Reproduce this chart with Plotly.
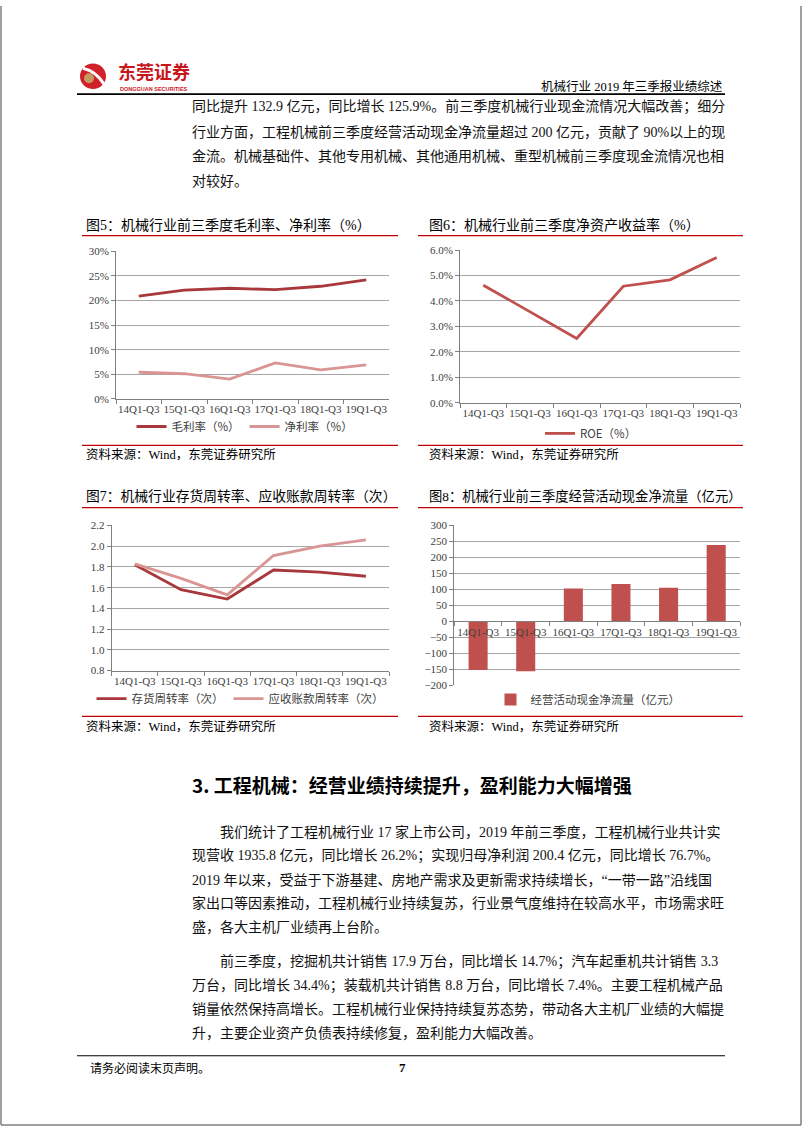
import plotly.graph_objects as go

W, H = 802, 1133
SERIF = "Liberation Serif, Noto Sans CJK SC"
SANS = "Noto Sans CJK SC"

# ---------------- data ----------------
categories = ["14Q1-Q3", "15Q1-Q3", "16Q1-Q3", "17Q1-Q3", "18Q1-Q3", "19Q1-Q3"]
gross_margin = [20.9, 22.1, 22.5, 22.2, 22.9, 24.2]        # 毛利率（%）
net_margin = [5.4, 5.1, 4.0, 7.3, 5.9, 6.9]                # 净利率（%）
roe = [4.62, 3.58, 2.53, 4.58, 4.83, 5.71]                 # ROE（%）
inventory_turnover = [1.82, 1.58, 1.49, 1.77, 1.75, 1.71]  # 存货周转率（次）
receivable_turnover = [1.83, 1.69, 1.53, 1.91, 2.00, 2.06] # 应收账款周转率（次）
op_cash_flow = [-152, -156, 103, 117, 105, 239]            # 经营活动现金净流量（亿元）

chart_titles = [
    "图5：机械行业前三季度毛利率、净利率（%）",
    "图6：机械行业前三季度净资产收益率（%）",
    "图7：机械行业存货周转率、应收账款周转率（次）",
    "图8：机械行业前三季度经营活动现金净流量（亿元）",
]
source_text = "资料来源：Wind，东莞证券研究所"

top_para = [
    "同比提升 132.9 亿元，同比增长 125.9%。前三季度机械行业现金流情况大幅改善；细分",
    "行业方面，工程机械前三季度经营活动现金净流量超过 200 亿元，贡献了 90%以上的现",
    "金流。机械基础件、其他专用机械、其他通用机械、重型机械前三季度现金流情况也相",
    "对较好。",
]
section_title = "3. 工程机械：经营业绩持续提升，盈利能力大幅增强"
para1 = [
    "我们统计了工程机械行业 17 家上市公司，2019 年前三季度，工程机械行业共计实",
    "现营收 1935.8 亿元，同比增长 26.2%；实现归母净利润 200.4 亿元，同比增长 76.7%。",
    "2019 年以来，受益于下游基建、房地产需求及更新需求持续增长，“一带一路”沿线国",
    "家出口等因素推动，工程机械行业持续复苏，行业景气度维持在较高水平，市场需求旺",
    "盛，各大主机厂业绩再上台阶。",
]
para2 = [
    "前三季度，挖掘机共计销售 17.9 万台，同比增长 14.7%；汽车起重机共计销售 3.3",
    "万台，同比增长 34.4%；装载机共计销售 8.8 万台，同比增长 7.4%。主要工程机械产品",
    "销量依然保持高增长。工程机械行业保持持续复苏态势，带动各大主机厂业绩的大幅提",
    "升，主要企业资产负债表持续修复，盈利能力大幅改善。",
]

# ---------------- helpers ----------------
def px(x):
    return x / W

def py(y):
    return 1 - y / H

def xd(a, b):
    return [a / W, b / W]

def yd(top, bottom):
    return [1 - bottom / H, 1 - top / H]

annotations = []
shapes = []

def text(t, x, y, size, color="#000000", family=SERIF, xanchor="left", bold=False):
    if bold:
        t = "<b>" + t + "</b>"
    annotations.append(dict(text=t, x=px(x), y=py(y), xref="paper", yref="paper",
                            xanchor=xanchor, yanchor="middle", showarrow=False,
                            font=dict(family=family, size=size, color=color)))

def hline(x0, x1, y, color, width):
    shapes.append(dict(type="line", xref="paper", yref="paper", x0=px(x0), x1=px(x1),
                       y0=py(y), y1=py(y), line=dict(color=color, width=width)))

def vline(x, y0, y1, color, width):
    shapes.append(dict(type="line", xref="paper", yref="paper", x0=px(x), x1=px(x),
                       y0=py(y0), y1=py(y1), line=dict(color=color, width=width)))

def circle(cx, cy, r, color):
    shapes.append(dict(type="circle", xref="paper", yref="paper", x0=px(cx - r), x1=px(cx + r),
                       y0=py(cy + r), y1=py(cy - r), fillcolor=color, line=dict(width=0)))

# ---------------- page decoration ----------------
BORDER = "#7F7F7F"
vline(1, 0, 1131, BORDER, 1.5)
vline(801, 0, 1131, BORDER, 1.5)
hline(1, 801, 1131, BORDER, 1.5)

# logo
circle(93, 71, 13, "#D0202A")
shapes.append(dict(type="path", xref="paper", yref="paper",
                   path="M %f,%f Q %f,%f %f,%f" % (px(83), py(63), px(96), py(66), px(104), py(79)),
                   line=dict(color="white", width=3)))
circle(89, 73, 5, "#C49A5E")
text("东莞证券", 116, 66, 18, "#C8161D", SANS, bold=True)
text("DONGGUAN SECURITIES", 118, 84, 5.5, "#C8161D", "Liberation Sans", bold=True)
text("机械行业 2019 年三季报业绩综述", 725, 81, 12.5, "#000000", SERIF, xanchor="right")
hline(77, 725, 89, "#000000", 1.8)

# top paragraph
for i, line in enumerate(top_para):
    text(line, 190, 102 + 25 * i, 14, "#111111")

# chart titles, rules, sources
RED = "#C00000"
for (tx, ty, lx0, lx1, rule_top, rule_bot, src_y, tsize), t in zip(
        [(84, 221, 82, 398, 232, 444, 453, 14),
         (427, 221, 418, 743, 232, 444, 453, 14),
         (84, 495, 82, 398, 507, 718, 728, 13.8),
         (427, 495, 418, 743, 507, 718, 728, 13.3)], chart_titles):
    text(t, tx, ty, tsize, "#000000", SERIF)
    hline(lx0, lx1, rule_top, RED, 1.2)
    hline(lx0, lx1, rule_bot, RED, 1.2)
    text(source_text, tx, src_y, 12.5, "#000000", SERIF)

# section text
text(section_title, 190, 787, 19, "#000000", SANS, bold=True)
for i, line in enumerate(para1):
    text(line, 218 if i == 0 else 190, 835 + 24 * i, 14, "#111111")
for i, line in enumerate(para2):
    text(line, 218 if i == 0 else 190, 966 + 24 * i, 14, "#111111")

# footer
hline(77, 725, 1061, "#000000", 1.2)
text("请务必阅读末页声明。", 88, 1073, 12, "#000000", SANS)
text("7", 403, 1073, 13, "#000000", SERIF, xanchor="center", bold=True)

# ---------------- charts ----------------
TICKFONT = dict(family=SERIF, size=11, color="#404040")
GRID = "#A6A6A6"
AX = "#808080"

def yaxis_cfg(dom, anchor, rng, dtick, fmt, suffix=""):
    return dict(domain=dom, anchor=anchor, range=rng, dtick=dtick, tickformat=fmt,
                ticksuffix=suffix, showgrid=True, gridcolor=GRID, gridwidth=1,
                showline=True, linecolor=AX, linewidth=1, ticks="outside", ticklen=4,
                tickcolor=AX, tickfont=TICKFONT, zeroline=False, fixedrange=True)

def xaxis_cfg(dom, anchor):
    return dict(domain=dom, anchor=anchor, type="category", range=[-0.5, 5.5],
                showline=True, linecolor=AX, linewidth=1, ticks="outside", ticklen=4,
                tickcolor=AX, tickson="boundaries", showgrid=False, zeroline=False,
                tickangle=0, tickfont=TICKFONT, fixedrange=True)

fig = go.Figure()

c_dark = "#A8383B"
c_light = "#D99594"
c_mid = "#C0504D"

fig.add_trace(go.Scatter(x=categories, y=gross_margin, mode="lines", name="毛利率（%）",
                         line=dict(color=c_dark, width=2.8), xaxis="x", yaxis="y", legend="legend"))
fig.add_trace(go.Scatter(x=categories, y=net_margin, mode="lines", name="净利率（%）",
                         line=dict(color=c_light, width=2.8), xaxis="x", yaxis="y", legend="legend"))
fig.add_trace(go.Scatter(x=categories, y=roe, mode="lines", name="ROE（%）",
                         line=dict(color=c_mid, width=2.8), xaxis="x2", yaxis="y2", legend="legend2"))
fig.add_trace(go.Scatter(x=categories, y=inventory_turnover, mode="lines", name="存货周转率（次）",
                         line=dict(color=c_dark, width=2.8), xaxis="x3", yaxis="y3", legend="legend3"))
fig.add_trace(go.Scatter(x=categories, y=receivable_turnover, mode="lines", name="应收账款周转率（次）",
                         line=dict(color=c_light, width=2.8), xaxis="x3", yaxis="y3", legend="legend3"))
fig.add_trace(go.Bar(x=categories, y=op_cash_flow, name="经营活动现金净流量（亿元）",
                     marker=dict(color=c_mid, line=dict(width=0)), width=0.4,
                     xaxis="x4", yaxis="y4", legend="legend4"))

y4_dom = yd(525, 686.7)
y4_rng = [-200, 300]
zero_pos = y4_dom[0] + (0 - y4_rng[0]) / (y4_rng[1] - y4_rng[0]) * (y4_dom[1] - y4_dom[0])

x4 = xaxis_cfg(xd(454.3, 740), "free")
x4["position"] = zero_pos

LEGFONT = dict(family=SANS, size=11.5, color="#404040")

def legend_cfg(cx, cy):
    return dict(orientation="h", x=px(cx), y=py(cy), xanchor="center", yanchor="middle",
                bgcolor="rgba(0,0,0,0)", font=LEGFONT, itemwidth=30, tracegroupgap=0)

fig.update_layout(
    width=W, height=H, margin=dict(l=0, r=0, t=0, b=0),
    paper_bgcolor="white", plot_bgcolor="white", showlegend=True,
    xaxis=xaxis_cfg(xd(116, 389), "y"),
    yaxis=yaxis_cfg(yd(248, 397), "x", [0, 30], 5, "d", "%"),
    xaxis2=xaxis_cfg(xd(460, 740), "y2"),
    yaxis2=yaxis_cfg(yd(246.7, 401), "x2", [0, 6], 1, ".1f", "%"),
    xaxis3=xaxis_cfg(xd(111.7, 389), "y3"),
    yaxis3=yaxis_cfg(yd(525, 671.7), "x3", [0.8, 2.2], 0.2, ".1f"),
    xaxis4=x4,
    yaxis4=yaxis_cfg(y4_dom, "x4", y4_rng, 50, "d"),
    legend=legend_cfg(245, 425),
    legend2=legend_cfg(591, 432),
    legend3=legend_cfg(240, 700),
    legend4=legend_cfg(588, 701),
    annotations=annotations, shapes=shapes,
)

fig.write_html("out.html")
